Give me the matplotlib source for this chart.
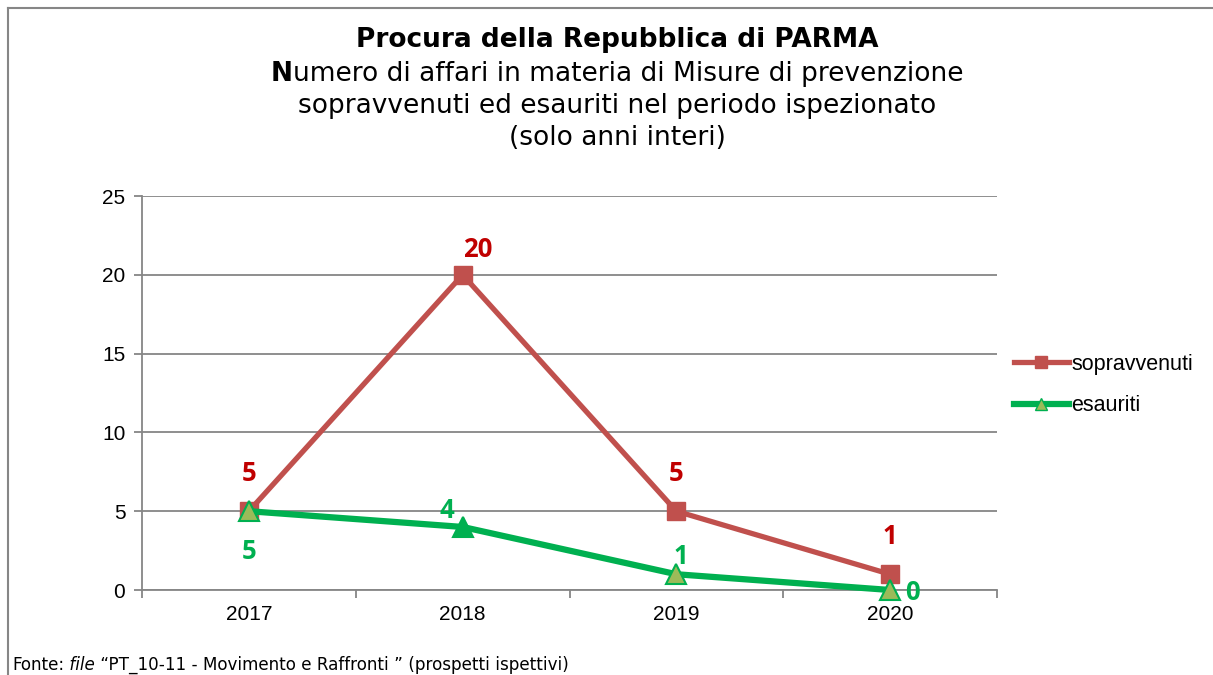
import matplotlib.pyplot as plt
from matplotlib.lines import Line2D

# data
years = ['2017', '2018', '2019', '2020']
sopravvenuti = [5, 20, 5, 1]
esauriti = [5, 4, 1, 0]

red = '#C0504D'
red_txt = '#C00000'
green = '#00B050'
olive = '#9BBB59'
grid_col = '#868686'

fig = plt.figure(figsize=(12.13, 6.75), dpi=100)
ax = fig.add_axes([142 / 1213, 1 - 590 / 675, 855 / 1213, 394 / 675])

x = list(range(len(years)))

ax.plot(x, sopravvenuti, color=red, lw=3.8, zorder=3, solid_joinstyle='miter', clip_on=False)
ax.plot(x, sopravvenuti, ls='none', marker='s', ms=13.5, color=red, zorder=4, clip_on=False)
ax.plot(x, esauriti, color=green, lw=4.5, zorder=5, clip_on=False)
# first/last triangles have olive fill, 2018 solid green
for i, v in enumerate(esauriti):
    fc = green if i == 1 else olive
    ax.plot(i, v, ls='none', marker='^', ms=15, mfc=fc, mec=green, mew=1.5, zorder=6,
            clip_on=False)

lab = dict(family='Open Sans', fontweight='bold', fontsize=18.5, ha='center', va='center')
# value labels (offsets in points)
red_off = [(0, 27), (11, 18), (0, 27), (0, 27)]
green_off = [(0, -29), (-11, 12), (3, 13), (16, -2)]
for i, v in enumerate(sopravvenuti):
    ax.annotate(str(v), (i, v), xytext=red_off[i], textcoords='offset points',
                color=red_txt, zorder=7, **lab)
for i, v in enumerate(esauriti):
    ax.annotate(str(v), (i, v), xytext=green_off[i], textcoords='offset points',
                color=green, zorder=7, **lab)

ax.set_xlim(-0.5, 3.5)
ax.set_ylim(0, 25)
ax.set_yticks(range(0, 26, 5))
ax.set_xticks(x)
ax.set_xticklabels(years)
ax.set_xticks([-0.5, 0.5, 1.5, 2.5, 3.5], minor=True)
ax.tick_params(axis='x', which='major', length=0, pad=11)
ax.tick_params(axis='x', which='minor', length=6, color=grid_col, width=1.3)
ax.tick_params(axis='y', length=6, color=grid_col, width=1.3, pad=6)
for t in ax.get_xticklabels() + ax.get_yticklabels():
    t.set_family('Liberation Sans')
    t.set_fontsize(15)
ax.grid(axis='y', color=grid_col, lw=1.3)
ax.set_axisbelow(True)
for s in ['top', 'right']:
    ax.spines[s].set_visible(False)
for s in ['left', 'bottom']:
    ax.spines[s].set_color(grid_col)
    ax.spines[s].set_linewidth(1.3)

handles = [
    Line2D([], [], color=red, lw=3.8, marker='s', ms=9),
    Line2D([], [], color=green, lw=4.5, marker='^', ms=8, mfc=olive, mec=green),
]
ax.legend(handles, ['sopravvenuti', 'esauriti'], loc='center left',
          bbox_to_anchor=(1014 / 1213, 1 - 385 / 675), bbox_transform=fig.transFigure,
          frameon=False, prop={'family': 'Liberation Sans', 'size': 15.5},
          handlelength=2.55, handletextpad=0.1, labelspacing=0.95, borderpad=0,
          borderaxespad=0)

# titles
fig.text(617 / 1213, 1 - 40 / 675, 'Procura della Repubblica di PARMA',
         ha='center', va='center', fontsize=19, fontweight='bold', family='DejaVu Sans')

renderer = fig.canvas.get_renderer()
sub = dict(fontsize=19, family='DejaVu Sans', va='center')
yN = 1 - 74 / 675
tN = fig.text(0, yN, 'N', fontweight='bold', **sub)
tR = fig.text(0, yN, 'umero di affari in materia di Misure di prevenzione', **sub)
wN = tN.get_window_extent(renderer).width / fig.bbox.width
wR = tR.get_window_extent(renderer).width / fig.bbox.width
x0 = 617 / 1213 - (wN + wR) / 2
tN.set_x(x0)
tR.set_x(x0 + wN)
fig.text(617 / 1213, 1 - 106 / 675, 'sopravvenuti ed esauriti nel periodo ispezionato',
         ha='center', **sub)
fig.text(617 / 1213, 1 - 138 / 675, '(solo anni interi)', ha='center', **sub)

# footer with italic "file"
foot = dict(fontsize=12.1, family='DejaVu Sans', va='center')
fx = 12 / 1213
fy = 1 - 665 / 675
for txt, st in [('Fonte:', 'normal'), (' file', 'italic'),
                (' \u201cPT_10-11 - Movimento e Raffronti \u201d (prospetti ispettivi)', 'normal')]:
    t = fig.text(fx, fy, txt, style=st, **foot)
    fx += t.get_window_extent(renderer).width / fig.bbox.width

# frame lines
fig.add_artist(Line2D([8 / 1213, 1], [1 - 8 / 675, 1 - 8 / 675], color=grid_col, lw=1.5,
                      transform=fig.transFigure))
fig.add_artist(Line2D([8 / 1213, 8 / 1213], [0, 1 - 8 / 675], color=grid_col, lw=1.5,
                      transform=fig.transFigure))

fig.savefig('out.png', dpi=100)
